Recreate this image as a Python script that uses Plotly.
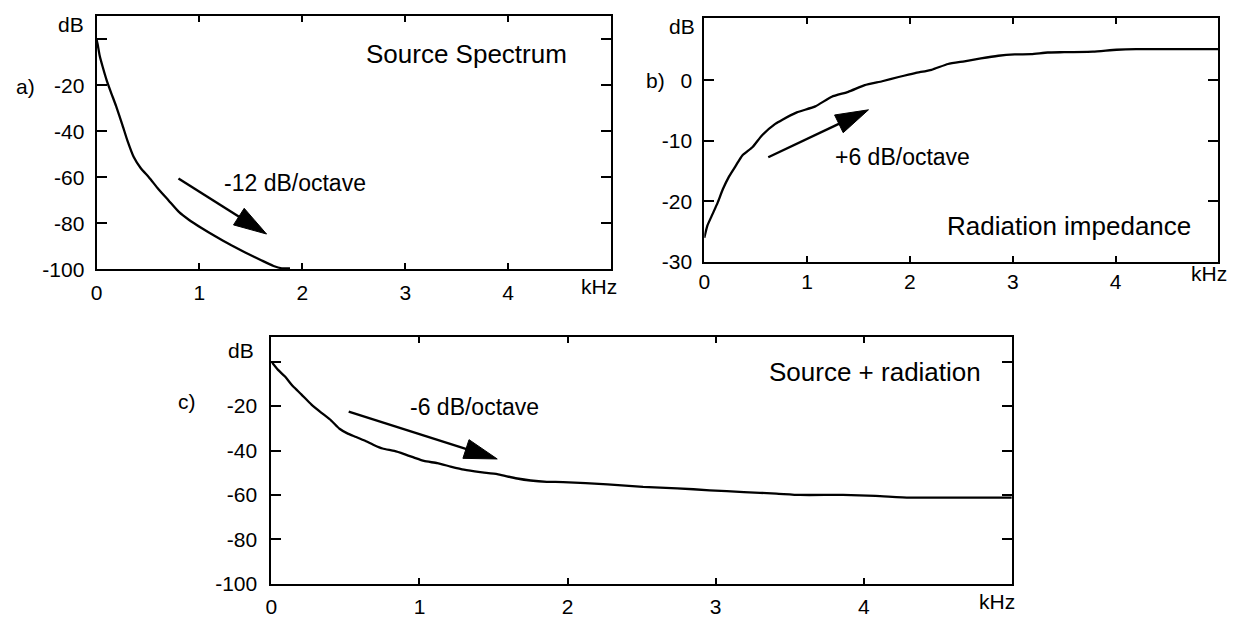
import plotly.graph_objects as go

W, H = 1238, 622
FONT = "Liberation Sans, Arial, Helvetica, sans-serif"

# ---------------- data ----------------
# a) Source spectrum
a_khz = [0, 0.01, 0.03, 0.06, 0.10, 0.14, 0.19, 0.25, 0.30, 0.36, 0.43, 0.51, 0.60,
         0.70, 0.80, 0.90, 1.02, 1.15, 1.31, 1.44, 1.60, 1.72, 1.80, 1.88]
a_db = [0, -2, -7, -12, -18, -23, -29, -37, -44, -51, -56, -60, -65,
        -70, -75, -78.5, -82, -85.5, -89.5, -92.5, -96, -98.5, -99.5, -99.5]

# b) Radiation impedance
b_khz = [0, 0.03, 0.08, 0.13, 0.18, 0.24, 0.31, 0.37, 0.47, 0.56, 0.69, 0.76, 0.90,
         1.08, 1.24, 1.40, 1.56, 1.73, 1.89, 2.05, 2.21, 2.37, 2.53, 2.69, 2.86,
         3.02, 3.18, 3.34, 3.50, 3.78, 4.01, 4.20, 5.0]
b_db = [-26, -24, -22.1, -20.2, -18, -15.9, -14, -12.4, -11, -9.1, -7.2, -6.5, -5.3,
        -4.3, -2.7, -1.9, -0.8, -0.15, 0.55, 1.2, 1.74, 2.7, 3.15, 3.63, 4.06,
        4.28, 4.33, 4.6, 4.65, 4.75, 5.05, 5.15, 5.15]

# c) Source + radiation
c_khz = [0, 0.045, 0.09, 0.146, 0.202, 0.269, 0.336, 0.404, 0.46, 0.516, 0.572, 0.639,
         0.695, 0.751, 0.83, 0.897, 0.964, 1.03, 1.12, 1.21, 1.30, 1.41, 1.525, 1.59,
         1.66, 1.75, 1.86, 1.97, 2.27, 2.51, 2.74, 2.96, 3.19, 3.41, 3.57, 3.86, 4.08,
         4.31, 4.76, 5.0]
c_db = [0, -3.7, -6.6, -11.1, -14.7, -19.2, -22.9, -26.5, -30.2, -32.4, -33.9, -35.8,
        -37.6, -39.1, -40.2, -41.6, -43.2, -44.7, -45.7, -47.2, -48.6, -49.7, -50.6, -51.6,
        -52.6, -53.5, -54.1, -54.2, -55.2, -56.4, -57.0, -57.9, -58.7, -59.4, -60, -60, -60.4,
        -61.2, -61.2, -61.2]

x_ticks = [0, 1, 2, 3, 4]
x_ticktext = ["0", "1", "2", "3", "4"]
ya_ticks = [-100, -80, -60, -40, -20, 0]
ya_text = ["-100", "-80", "-60", "-40", "-20", ""]
yb_ticks = [-30, -20, -10, 0]
yb_text = ["-30", "-20", "-10", "0"]
yc_ticks = [-100, -80, -60, -40, -20, 0]
yc_text = ["-100", "-80", "-60", "-40", "-20", ""]

# slope arrows: (x0, y0, x1, y1) in data units, tip at (x1, y1)
arrow_a = (0.796, -60.5, 1.652, -84.6)
arrow_b = (0.622, -12.7, 1.597, -4.87)
arrow_c = (0.522, -22.5, 1.525, -43.8)

# ---------------- layout geometry ----------------
def px_dom_x(p0, p1):
    return [p0 / W, p1 / W]

def px_dom_y(top, bottom):
    return [1 - bottom / H, 1 - top / H]

panels = {
    "a": dict(xd=px_dom_x(91, 608), yd=px_dom_y(16, 274.3), xr=[0, 5], yr=[-100, 10.3]),
    "b": dict(xd=px_dom_x(701.7, 1218.3), yd=px_dom_y(18.3, 266.7), xr=[0, 5], yr=[-30, 10.3]),
    "c": dict(xd=px_dom_x(266.7, 1010.7), yd=px_dom_y(343.3, 594.3), xr=[0, 5], yr=[-100, 11]),
}

fig = go.Figure()
line = dict(color="black", width=2.3, shape="spline", smoothing=0.5)
fig.add_trace(go.Scatter(x=a_khz, y=a_db, mode="lines", line=line, xaxis="x", yaxis="y",
                         showlegend=False, hoverinfo="skip"))
fig.add_trace(go.Scatter(x=b_khz, y=b_db, mode="lines", line=line, xaxis="x2", yaxis="y2",
                         showlegend=False, hoverinfo="skip"))
fig.add_trace(go.Scatter(x=c_khz, y=c_db, mode="lines", line=line, xaxis="x3", yaxis="y3",
                         showlegend=False, hoverinfo="skip"))

tickfont = dict(family=FONT, size=21, color="black")

def xaxis(p, anchor, standoff):
    return dict(domain=p["xd"], range=p["xr"], anchor=anchor, tickvals=x_ticks, ticktext=x_ticktext,
                ticks="inside", ticklen=6, tickwidth=2, tickcolor="black", showline=True,
                linewidth=2, linecolor="black", mirror="ticks", showgrid=False, zeroline=False,
                tickfont=tickfont, fixedrange=True, ticklabelstandoff=standoff)

def yaxis(p, anchor, vals, text, standoff):
    return dict(domain=p["yd"], range=p["yr"], anchor=anchor, tickvals=vals, ticktext=text,
                ticks="inside", ticklen=10, tickwidth=2, tickcolor="black", showline=True,
                linewidth=2, linecolor="black", mirror="ticks", showgrid=False, zeroline=False,
                tickfont=tickfont, fixedrange=True, ticklabelstandoff=standoff)

fig.update_layout(
    width=W, height=H, margin=dict(l=0, r=0, t=0, b=0),
    paper_bgcolor="white", plot_bgcolor="white",
    font=dict(family=FONT, size=21, color="black"),
    xaxis=xaxis(panels["a"], "y", 3),
    yaxis=yaxis(panels["a"], "x", ya_ticks, ya_text, 6),
    xaxis2=xaxis(panels["b"], "y2", 0),
    yaxis2=yaxis(panels["b"], "x2", yb_ticks, yb_text, 6),
    xaxis3=xaxis(panels["c"], "y3", 3),
    yaxis3=yaxis(panels["c"], "x3", yc_ticks, yc_text, 8),
)

# ---------------- arrows (shaft + filled narrow head) ----------------
def px_scale(p):
    sx = (p["xd"][1] - p["xd"][0]) * W / (p["xr"][1] - p["xr"][0])
    sy = (p["yd"][1] - p["yd"][0]) * H / (p["yr"][1] - p["yr"][0])
    return sx, sy

shapes = []
def add_arrow(key, xref, yref, arr, head_len=33, head_half=10):
    p = panels[key]
    sx, sy = px_scale(p)
    x0, y0, x1, y1 = arr
    dx, dy = (x1 - x0) * sx, (y1 - y0) * sy
    L = (dx ** 2 + dy ** 2) ** 0.5
    ux, uy = dx / L, dy / L
    nx, ny = -uy, ux
    bx, by = x1 - ux * head_len / sx, y1 - uy * head_len / sy
    c1 = (bx + nx * head_half / sx, by + ny * head_half / sy)
    c2 = (bx - nx * head_half / sx, by - ny * head_half / sy)
    shapes.append(dict(type="line", xref=xref, yref=yref, x0=x0, y0=y0,
                       x1=bx + ux * 4 / sx, y1=by + uy * 4 / sy,
                       line=dict(color="black", width=2.4)))
    path = f"M{x1},{y1} L{c1[0]},{c1[1]} L{c2[0]},{c2[1]} Z"
    shapes.append(dict(type="path", xref=xref, yref=yref, path=path,
                       fillcolor="black", line=dict(color="black", width=1)))

add_arrow("a", "x", "y", arrow_a)
add_arrow("b", "x2", "y2", arrow_b)
add_arrow("c", "x3", "y3", arrow_c)
fig.update_layout(shapes=shapes)

# ---------------- text ----------------
ann = []
def txt(text, x, y, xref, yref, size=21, xanchor="center"):
    ann.append(dict(text=text, x=x, y=y, xref=xref, yref=yref, showarrow=False,
                    xanchor=xanchor, yanchor="middle", font=dict(family=FONT, size=size, color="black")))

# panel letters and axis unit labels (pixel positions -> paper)
def P(px, py):
    return px / W, 1 - py / H

for t, (px, py) in [("a)", (19.7, 87.7)), ("b)", (653, 81.7)), ("c)", (181.7, 408.3)),
                    ("dB", (65, 25)), ("dB", (679, 26.7)), ("dB", (236, 357)),
                    ("kHz", (596, 291.7)), ("kHz", (1209, 278)), ("kHz", (995.8, 612.3))]:
    x, y = P(px, py)
    txt(t, x, y, "paper", "paper")

# in-plot labels
txt("Source Spectrum", 3.60, -6.4, "x", "y", size=26)
txt("-12 dB/octave", 1.22, -62.3, "x", "y", size=23, xanchor="left")
txt("+6 dB/octave", 1.25, -12.7, "x2", "y2", size=23, xanchor="left")
txt("Radiation impedance", 4.75, -24.05, "x2", "y2", size=26, xanchor="right")
txt("-6 dB/octave", 0.92, -20.6, "x3", "y3", size=23, xanchor="left")
txt("Source + radiation", 4.805, -4.7, "x3", "y3", size=26, xanchor="right")

fig.update_layout(annotations=ann)
fig.write_html("out.html")
